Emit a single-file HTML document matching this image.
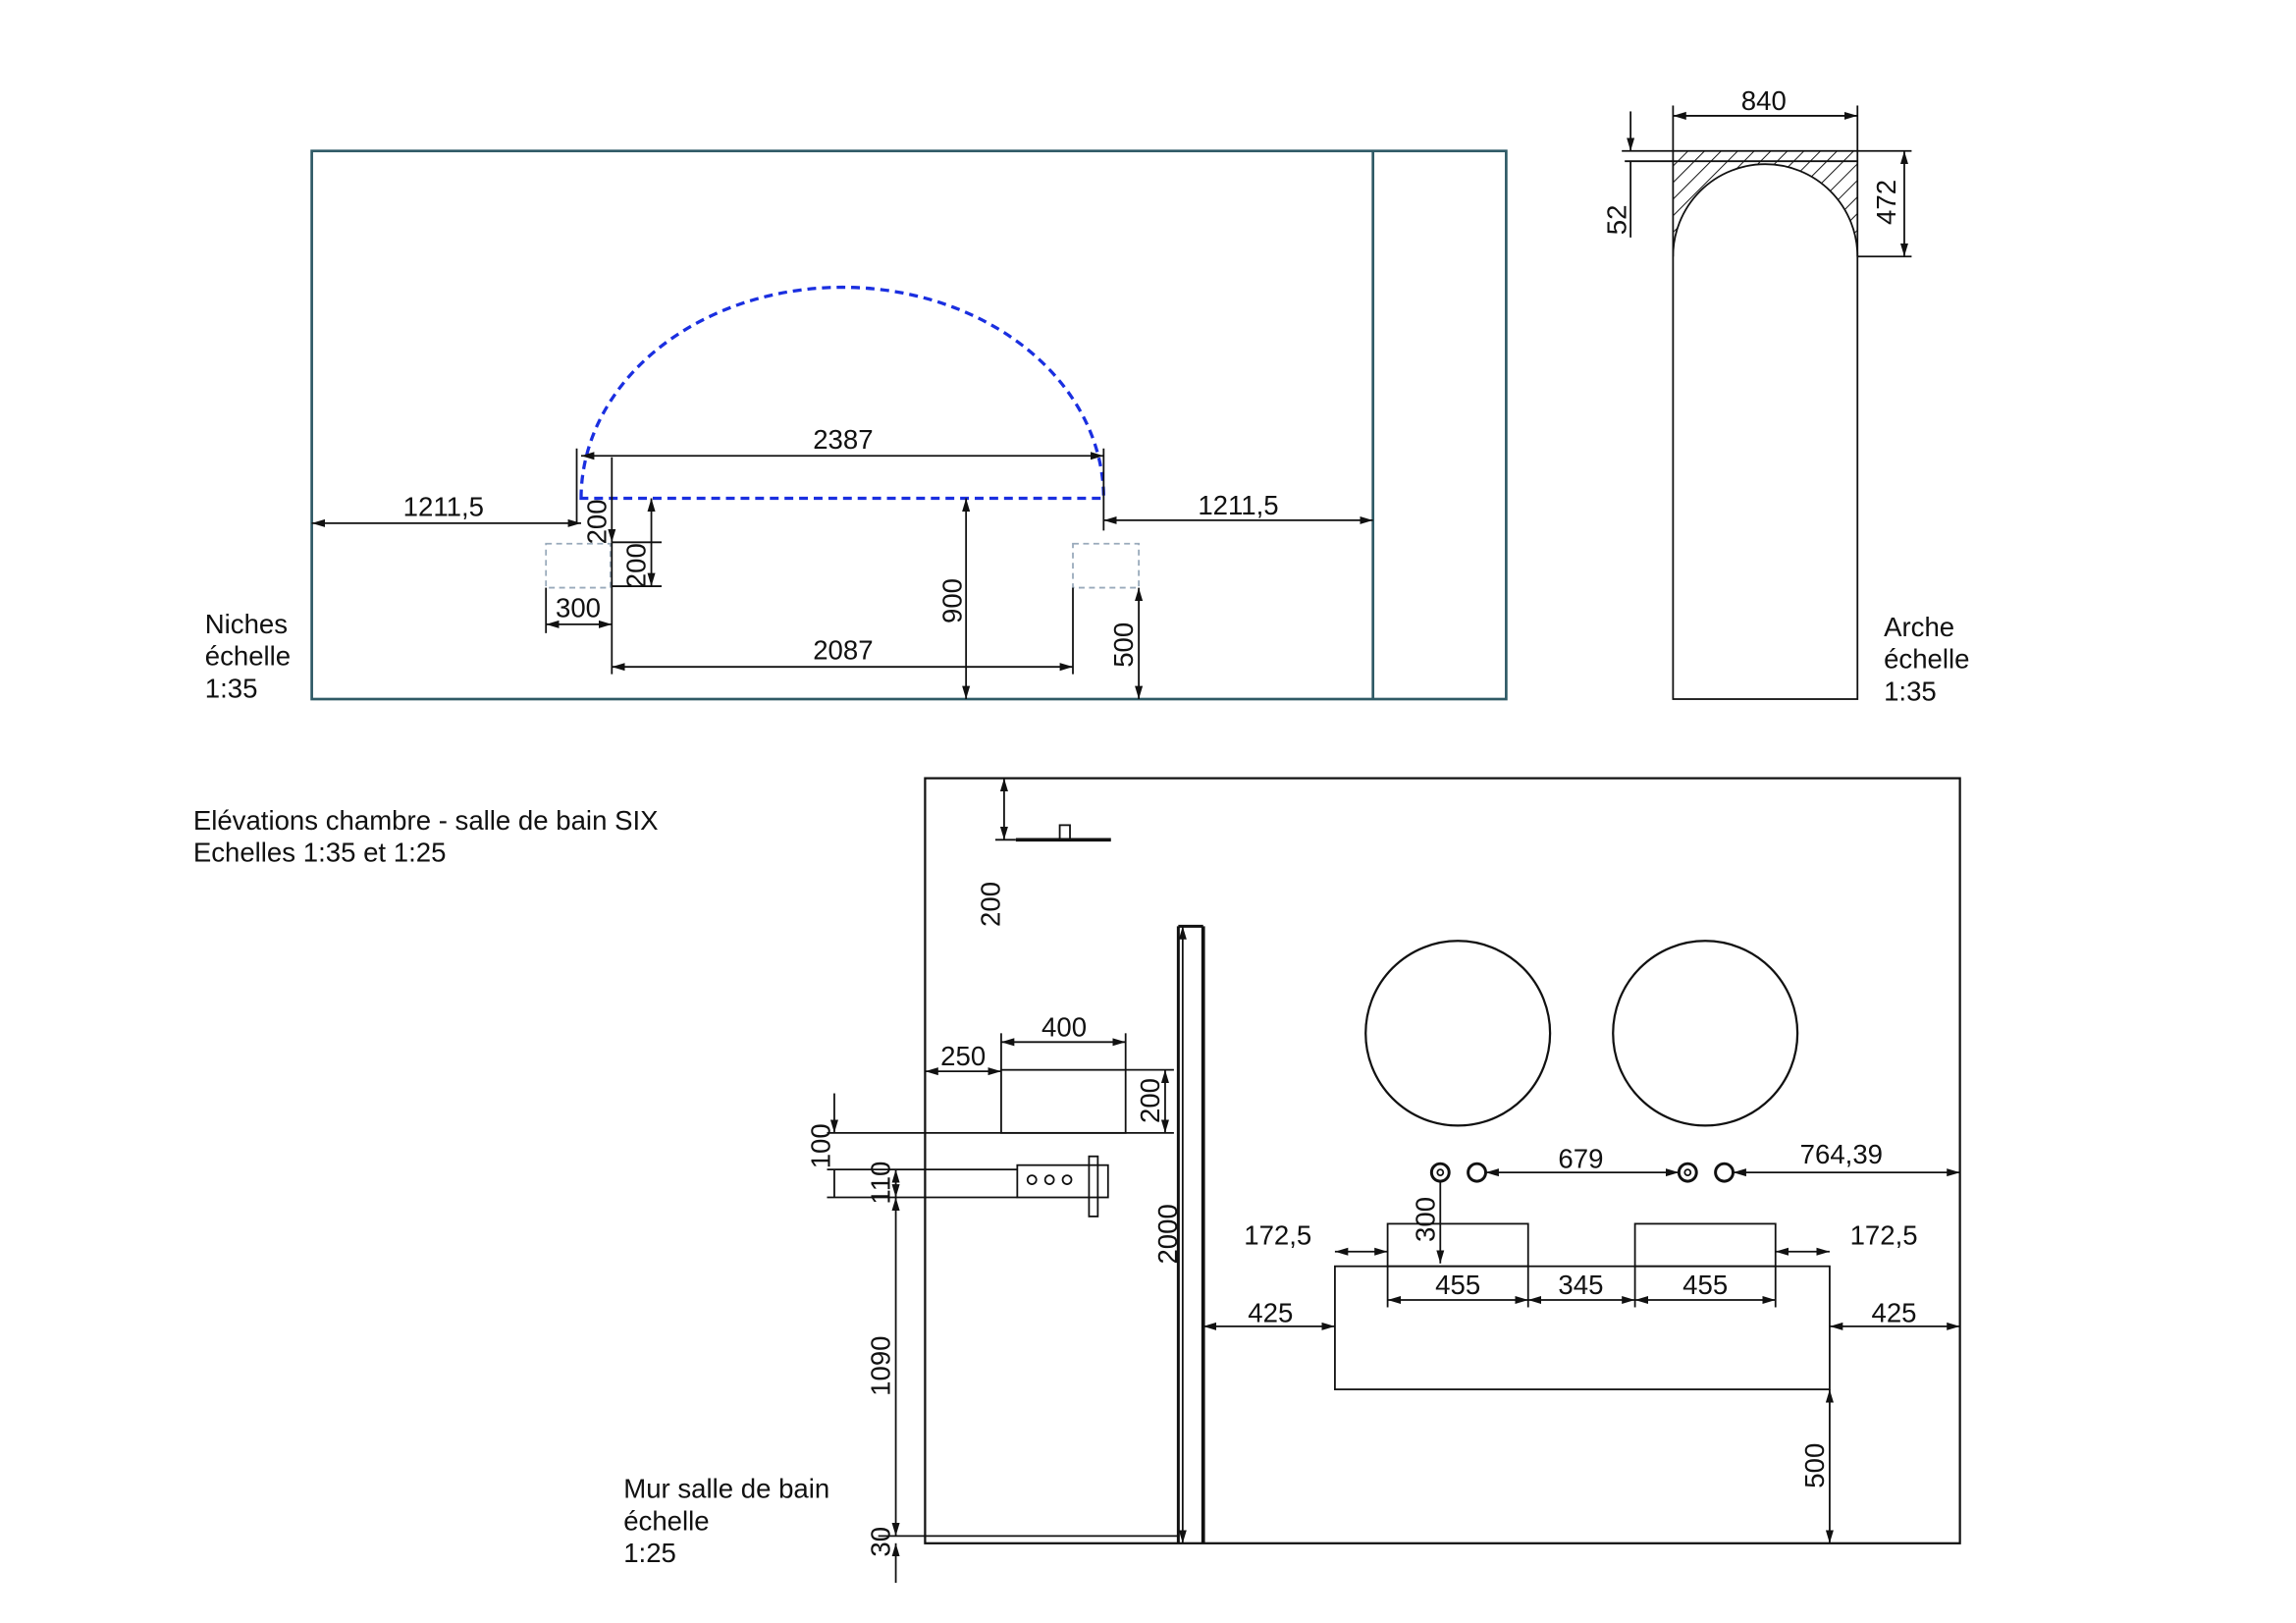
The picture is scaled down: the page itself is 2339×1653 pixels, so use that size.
<!DOCTYPE html>
<html><head><meta charset="utf-8"><style>
html,body{margin:0;padding:0;background:#fff;}
svg{display:block;}
text{font-family:"Liberation Sans",Arial,sans-serif;font-size:18.5px;fill:#111;}
</style></head><body>
<svg width="2339" height="1653" viewBox="0 0 1568.6 1107.4" preserveAspectRatio="none" xmlns="http://www.w3.org/2000/svg">
<defs>
<marker id="a" viewBox="0 0 10 10" refX="10" refY="5" markerWidth="9" markerHeight="9" orient="auto-start-reverse" markerUnits="userSpaceOnUse"><path d="M0,2 L10,5 L0,8 z" fill="#111"/></marker>
<pattern id="h" width="8" height="8" patternUnits="userSpaceOnUse" patternTransform="rotate(45)"><line x1="0" y1="0" x2="0" y2="8" stroke="#111" stroke-width="1.3"/></pattern>
</defs>
<g fill="none" stroke="#111" stroke-width="1.2">
<rect x="213" y="103" width="816" height="374" stroke="#2f5a66" stroke-width="1.8"/>
<line x1="938" y1="103" x2="938" y2="477" stroke="#2f5a66" stroke-width="1.8"/>
<path d="M397,340 A178.5,144 0 0 1 754,340 Z" stroke="#1a2fe0" stroke-width="2.2" stroke-dasharray="6,4"/>
<rect x="373" y="371" width="44" height="30" stroke="#9ab" stroke-dasharray="4,3"/>
<rect x="733" y="371" width="45" height="30" stroke="#9ab" stroke-dasharray="4,3"/>
<line x1="394" y1="306" x2="394" y2="357"/><line x1="754" y1="306" x2="754" y2="362"/>
<line x1="397" y1="311" x2="754" y2="311" marker-start="url(#a)" marker-end="url(#a)"/>
<line x1="213" y1="357" x2="397" y2="357" marker-start="url(#a)" marker-end="url(#a)"/>
<line x1="754" y1="355" x2="938" y2="355" marker-start="url(#a)" marker-end="url(#a)"/>
<line x1="418" y1="312" x2="418" y2="370" marker-end="url(#a)"/>
<line x1="445" y1="340" x2="445" y2="400" marker-start="url(#a)" marker-end="url(#a)"/>
<line x1="418" y1="370" x2="418" y2="460"/><line x1="418" y1="400" x2="452" y2="400"/><line x1="418" y1="370" x2="452" y2="370"/>
<line x1="373" y1="401" x2="373" y2="432"/>
<line x1="373" y1="426" x2="418" y2="426" marker-start="url(#a)" marker-end="url(#a)"/>
<line x1="418" y1="455" x2="733" y2="455" marker-start="url(#a)" marker-end="url(#a)"/>
<line x1="733" y1="401" x2="733" y2="460"/>
<line x1="660" y1="340" x2="660" y2="477" marker-start="url(#a)" marker-end="url(#a)"/>
<line x1="778" y1="401" x2="778" y2="477" marker-start="url(#a)" marker-end="url(#a)"/>
<path d="M1143,103 L1269,103 L1269,175 A63,63 0 0 0 1143,175 Z" fill="url(#h)" stroke="none"/>
<rect x="1143" y="103" width="126" height="374"/>
<path d="M1143,175 A63,63 0 0 1 1269,175"/>
<line x1="1110" y1="110" x2="1269" y2="110"/>
<line x1="1143" y1="72" x2="1143" y2="103"/><line x1="1269" y1="72" x2="1269" y2="103"/>
<line x1="1143" y1="79" x2="1269" y2="79" marker-start="url(#a)" marker-end="url(#a)"/>
<line x1="1108" y1="103" x2="1143" y2="103"/>
<line x1="1114" y1="76" x2="1114" y2="103" marker-end="url(#a)"/>
<line x1="1114" y1="110" x2="1114" y2="162"/>
<line x1="1269" y1="175" x2="1306" y2="175"/><line x1="1269" y1="103" x2="1306" y2="103"/>
<line x1="1301" y1="103" x2="1301" y2="175" marker-start="url(#a)" marker-end="url(#a)"/>
<rect x="632" y="531" width="707" height="522" stroke-width="1.5"/>
<line x1="694" y1="573" x2="759" y2="573" stroke-width="2.5"/>
<rect x="724" y="563" width="7" height="10"/>
<line x1="680" y1="573" x2="694" y2="573"/>
<line x1="686" y1="531" x2="686" y2="573" marker-start="url(#a)" marker-end="url(#a)"/>
<line x1="805" y1="632" x2="805" y2="1053" stroke-width="2"/>
<line x1="822" y1="632" x2="822" y2="1053" stroke-width="2.5"/>
<line x1="805" y1="632" x2="822" y2="632" stroke-width="2"/>
<line x1="808" y1="632" x2="808" y2="1053" marker-start="url(#a)" marker-end="url(#a)"/>
<rect x="684" y="730" width="85" height="43"/>
<line x1="684" y1="705" x2="684" y2="730"/><line x1="769" y1="705" x2="769" y2="730"/>
<line x1="684" y1="711" x2="769" y2="711" marker-start="url(#a)" marker-end="url(#a)"/>
<line x1="632" y1="731" x2="684" y2="731" marker-start="url(#a)" marker-end="url(#a)"/>
<line x1="769" y1="730" x2="802" y2="730"/>
<line x1="796" y1="730" x2="796" y2="773" marker-start="url(#a)" marker-end="url(#a)"/>
<line x1="565" y1="773" x2="802" y2="773"/>
<line x1="565" y1="798" x2="695" y2="798"/><line x1="565" y1="817" x2="695" y2="817"/>
<line x1="570" y1="746" x2="570" y2="773" marker-end="url(#a)"/>
<line x1="570" y1="798" x2="570" y2="817"/>
<line x1="612" y1="798" x2="612" y2="817" marker-start="url(#a)" marker-end="url(#a)"/>
<rect x="695" y="795" width="62" height="22"/>
<circle cx="705" cy="805" r="3"/><circle cx="717" cy="805" r="3"/><circle cx="729" cy="805" r="3"/>
<rect x="744" y="789" width="6" height="41"/>
<line x1="612" y1="817" x2="612" y2="1048" marker-start="url(#a)" marker-end="url(#a)"/>
<line x1="600" y1="1048" x2="805" y2="1048"/>
<line x1="612" y1="1053" x2="612" y2="1080" marker-start="url(#a)"/>
<circle cx="996" cy="705" r="63" stroke-width="1.5"/>
<circle cx="1165" cy="705" r="63" stroke-width="1.5"/>
<circle cx="984" cy="800" r="6" stroke-width="2"/><circle cx="984" cy="800" r="2"/>
<circle cx="1009" cy="800" r="6" stroke-width="2"/>
<circle cx="1153" cy="800" r="6" stroke-width="2"/><circle cx="1153" cy="800" r="2"/>
<circle cx="1178" cy="800" r="6" stroke-width="2"/>
<line x1="1015" y1="800" x2="1147" y2="800" marker-start="url(#a)" marker-end="url(#a)"/>
<line x1="1184" y1="800" x2="1339" y2="800" marker-start="url(#a)" marker-end="url(#a)"/>
<line x1="984" y1="806" x2="984" y2="862" marker-end="url(#a)"/>
<rect x="948" y="835" width="96" height="29"/>
<rect x="1117" y="835" width="96" height="29"/>
<rect x="912" y="864" width="338" height="84"/>
<line x1="912" y1="854" x2="948" y2="854" marker-start="url(#a)" marker-end="url(#a)"/>
<line x1="1213" y1="854" x2="1250" y2="854" marker-start="url(#a)" marker-end="url(#a)"/>
<line x1="948" y1="864" x2="948" y2="892"/><line x1="1044" y1="864" x2="1044" y2="892"/>
<line x1="1117" y1="864" x2="1117" y2="892"/><line x1="1213" y1="864" x2="1213" y2="892"/>
<line x1="948" y1="887" x2="1044" y2="887" marker-start="url(#a)" marker-end="url(#a)"/>
<line x1="1044" y1="887" x2="1117" y2="887" marker-start="url(#a)" marker-end="url(#a)"/>
<line x1="1117" y1="887" x2="1213" y2="887" marker-start="url(#a)" marker-end="url(#a)"/>
<line x1="822" y1="905" x2="912" y2="905" marker-start="url(#a)" marker-end="url(#a)"/>
<line x1="1250" y1="905" x2="1339" y2="905" marker-start="url(#a)" marker-end="url(#a)"/>
<line x1="1250" y1="948" x2="1250" y2="1053" marker-start="url(#a)" marker-end="url(#a)"/>
</g>
<g>
<text x="576" y="306" text-anchor="middle">2387</text>
<text x="303" y="352" text-anchor="middle">1211,5</text>
<text x="846" y="351" text-anchor="middle">1211,5</text>
<text transform="translate(414,356) rotate(-90)" text-anchor="middle">200</text>
<text transform="translate(441,386) rotate(-90)" text-anchor="middle">200</text>
<text x="395" y="421" text-anchor="middle">300</text>
<text x="576" y="450" text-anchor="middle">2087</text>
<text transform="translate(657,410) rotate(-90)" text-anchor="middle">900</text>
<text transform="translate(774,440) rotate(-90)" text-anchor="middle">500</text>
<text x="140" y="432">Niches</text><text x="140" y="454">échelle</text><text x="140" y="476">1:35</text>
<text x="1205" y="75" text-anchor="middle">840</text>
<text transform="translate(1111,150) rotate(-90)" text-anchor="middle">52</text>
<text transform="translate(1295,138) rotate(-90)" text-anchor="middle">472</text>
<text x="1287" y="434">Arche</text><text x="1287" y="456">échelle</text><text x="1287" y="478">1:35</text>
<text x="132" y="566">Elévations chambre - salle de bain SIX</text>
<text x="132" y="588">Echelles 1:35 et 1:25</text>
<text transform="translate(683,617) rotate(-90)" text-anchor="middle">200</text>
<text x="727" y="707" text-anchor="middle">400</text>
<text x="658" y="727" text-anchor="middle">250</text>
<text transform="translate(792,751) rotate(-90)" text-anchor="middle">200</text>
<text transform="translate(567,782) rotate(-90)" text-anchor="middle">100</text>
<text transform="translate(608,807) rotate(-90)" text-anchor="middle">110</text>
<text transform="translate(804,842) rotate(-90)" text-anchor="middle">2000</text>
<text transform="translate(608,932) rotate(-90)" text-anchor="middle">1090</text>
<text transform="translate(608,1052) rotate(-90)" text-anchor="middle">30</text>
<text x="426" y="1022">Mur salle de bain</text><text x="426" y="1044">échelle</text><text x="426" y="1066">1:25</text>
<text x="1080" y="797" text-anchor="middle">679</text>
<text x="1258" y="794" text-anchor="middle">764,39</text>
<text transform="translate(980,832) rotate(-90)" text-anchor="middle">300</text>
<text x="873" y="849" text-anchor="middle">172,5</text>
<text x="1287" y="849" text-anchor="middle">172,5</text>
<text x="996" y="883" text-anchor="middle">455</text>
<text x="1080" y="883" text-anchor="middle">345</text>
<text x="1165" y="883" text-anchor="middle">455</text>
<text x="868" y="902" text-anchor="middle">425</text>
<text x="1294" y="902" text-anchor="middle">425</text>
<text transform="translate(1246,1000) rotate(-90)" text-anchor="middle">500</text>
</g>
</svg>
</body></html>
